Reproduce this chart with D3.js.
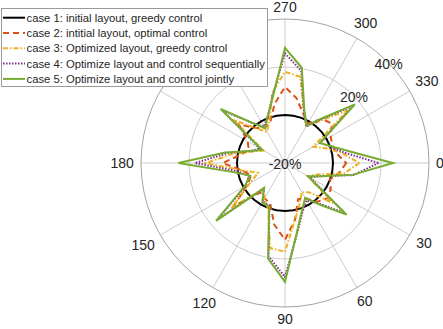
<!DOCTYPE html>
<html><head><meta charset="utf-8">
<script src="https://cdn.jsdelivr.net/npm/d3@7"></script>
<style>
body{margin:0;background:#fff}
svg{display:block}
text{font-family:"Liberation Sans",Arial,Helvetica,sans-serif;fill:#262626}
</style>
</head><body>
<svg id="chart" width="443" height="329"></svg>
<script>
// ---- data (angles in degrees, values in %) ----
const angles = [0,10,20,30,40,50,60,70,80,90,100,110,120,130,140,150,160,170,180,190,200,210,220,230,240,250,260,270,280,290,300,310,320,330,340,350];
const case1 = [0,0,0,0,0,0,0,0,0,0,0,0,0,0,0,0,0,0,0,0,0,0,0,0,0,0,0,0,0,0,0,0,0,0,0,0];
const case2 = [5.5,3,0,2,3,1,-3,-4,4,12,6,-2,-3,-4,8,-2,-5,-2,6,-1,-4,-2,5,-1,-3,-2,5,11.7,7.5,2,-1,4,5.5,2,1,2];
const case3 = [11,5,-6,-9,6,-4,-6,-2,4,17,16,0.5,-3,-6,9,-3,-8,-2,13,2,-6,-9.6,8,-1,-5,-1,10,18,16.5,3,-2,3,14,-6.5,-2,4];
const case4 = [19,9,-4,-8,12.5,2,-2,1.5,9.5,27.5,19.5,-1,-1.5,-6,16.5,-1,-4,0,17.5,4,-5,-8,14,2,-2.5,1,9,25.7,19,3,-2.4,4,17,-3,0,5];
const case5 = [25,8.5,-4,-9,13.5,2.7,-3.2,0.8,9,29.5,20.5,-0.7,-1,-6.5,17.5,-0.6,-4.6,1.9,24.4,5.4,-5.4,-9,15,2.2,-3.3,0.8,8.5,28,20.3,3.5,-2,4.5,18,-3.3,0.4,7.5];
const seriesNames = [
  "case 1: initial layout, greedy control",
  "case 2: intitial layout, optimal control",
  "case 3: Optimized layout, greedy control",
  "case 4: Optimize layout and control sequentially",
  "case 5: Optimize layout and control jointly"
];
const thetaTicks = [0,30,60,90,120,150,180,210,240,270,300,330];
// labels at 210 and 240 are hidden behind the legend in the reference
const thetaLabelTicks = [0,30,60,90,120,150,180,270,300,330];
const rGridTicks = [0,20];
const rLabelTicks = [-20,20,40];

// ---- styles ----
const styles = [
  {color:"#000000", dash:null, width:2},
  {color:"#D95319", dash:"6,4", width:2},
  {color:"#EDB120", dash:"5,2,1.5,2", width:2},
  {color:"#7E2F8E", dash:"1.5,1.5", width:2},
  {color:"#77AC30", dash:null, width:2}
];
const allSeries = [case1, case2, case3, case4, case5];

const svg = d3.select("#chart");
const cx = 285, cy = 163, R = 144;
const r = d3.scaleLinear().domain([-20, 40]).range([0, R]);
const toRad = d => d * Math.PI / 180;
// theta measured clockwise from the right (3 o'clock)
const pt = (deg, v) => [cx + r(v) * Math.cos(toRad(deg)), cy + r(v) * Math.sin(toRad(deg))];

const g = svg.append("g");

// grid circles
g.selectAll("circle.grid").data(rGridTicks).join("circle")
  .attr("cx", cx).attr("cy", cy).attr("r", d => r(d))
  .attr("fill", "none").attr("stroke", "#cccccc").attr("stroke-width", 1);
// spokes
g.selectAll("line.spoke").data(thetaTicks).join("line")
  .attr("x1", cx).attr("y1", cy)
  .attr("x2", d => pt(d, 40)[0]).attr("y2", d => pt(d, 40)[1])
  .attr("stroke", "#cccccc").attr("stroke-width", 1);
// outer circle
g.append("circle").attr("cx", cx).attr("cy", cy).attr("r", r(40))
  .attr("fill", "none").attr("stroke", "#a3a3a3").attr("stroke-width", 1);

// theta labels: placed just outside the circle, offset by their half extent
const thl = g.selectAll("text.th").data(thetaLabelTicks).join("text")
  .attr("text-anchor", "middle").attr("dominant-baseline", "central")
  .attr("font-size", 14).text(d => d);
thl.each(function(d) {
  const bb = this.getBBox();
  const hw = bb.width / 2, hh = 5.2;
  const c = Math.cos(toRad(d)), s = Math.sin(toRad(d));
  const rr = R + 7 + Math.abs(c) * hw + Math.abs(s) * hh;
  d3.select(this).attr("x", cx + rr * c).attr("y", cy + rr * s);
});

// r labels (along 316 deg)
g.selectAll("text.rl").data(rLabelTicks).join("text")
  .attr("x", d => pt(316, d)[0]).attr("y", d => pt(316, d)[1] + 1)
  .attr("text-anchor", "middle").attr("dominant-baseline", "central")
  .attr("font-size", 14).text(d => d + "%");

// series
const line = d3.lineRadial()
  .angle(d => toRad(d[0] + 90))
  .radius(d => r(d[1]))
  .curve(d3.curveLinearClosed);
const sg = svg.append("g").attr("transform", `translate(${cx},${cy})`);
allSeries.forEach((vals, i) => {
  const data = angles.map((a, k) => [a, vals[k]]);
  sg.append("path").datum(data).attr("d", line)
    .attr("fill", "none").attr("stroke", styles[i].color)
    .attr("stroke-width", styles[i].width)
    .attr("stroke-dasharray", styles[i].dash)
    .attr("stroke-linejoin", "miter");
});

// legend
const lg = svg.append("g");
lg.append("rect").attr("x", 1.5).attr("y", 8.5).attr("width", 266).attr("height", 78)
  .attr("fill", "#fff").attr("stroke", "#9a9a9a").attr("stroke-width", 1);
seriesNames.forEach((name, i) => {
  const y = 17.7 + i * 15.3;
  lg.append("line").attr("x1", 3).attr("x2", 25).attr("y1", y).attr("y2", y)
    .attr("stroke", styles[i].color).attr("stroke-width", styles[i].width)
    .attr("stroke-dasharray", styles[i].dash);
  lg.append("text").attr("x", 26.5).attr("y", y).attr("dominant-baseline", "central")
    .attr("font-size", 11.25).text(name);
});
</script>
</body></html>
